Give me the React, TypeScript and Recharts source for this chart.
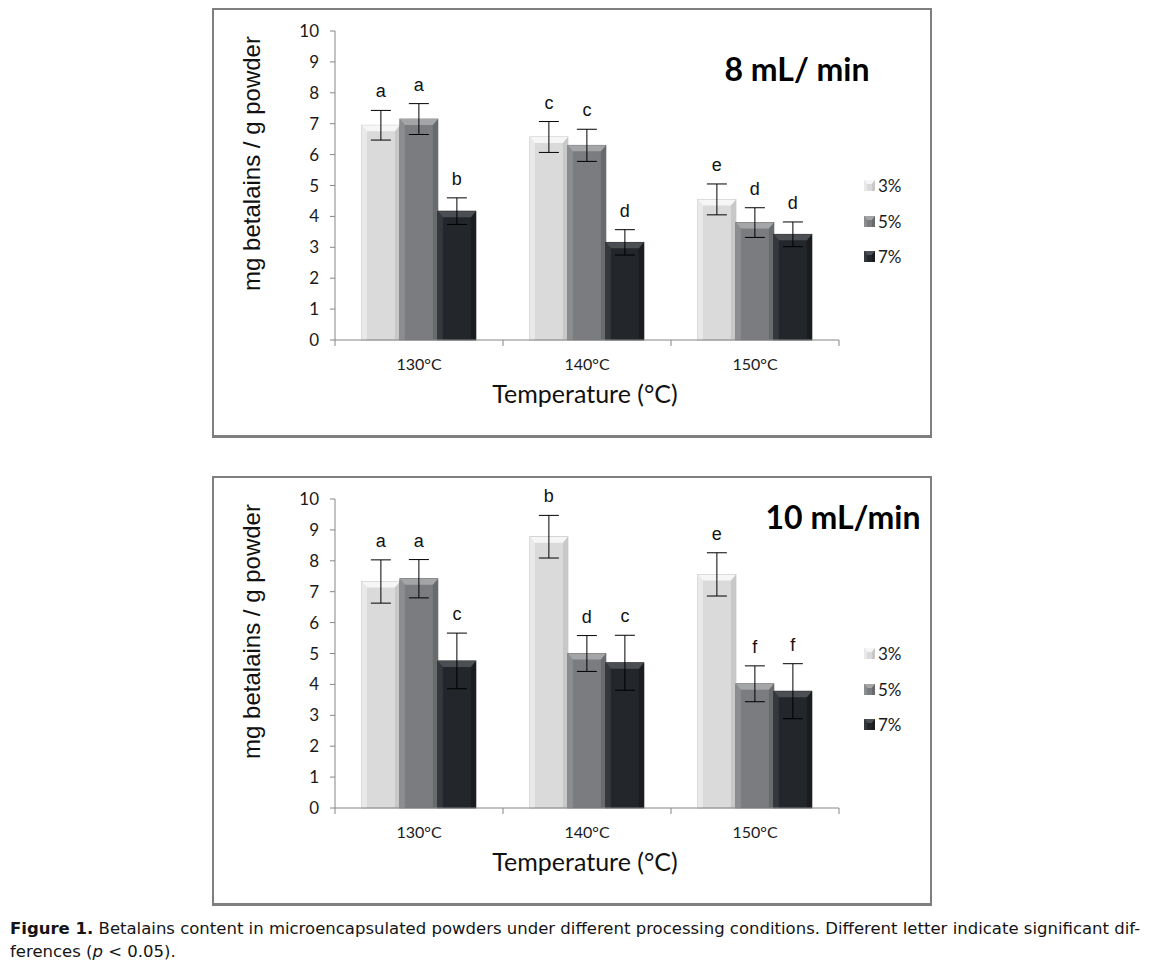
import React from 'react';
import { BarChart, Bar, XAxis, YAxis, ErrorBar, LabelList, Legend } from 'recharts';

// categories and series
const categories = ['130°C', '140°C', '150°C'];
const seriesNames = ['3%', '5%', '7%'];
const yTicks = [0, 1, 2, 3, 4, 5, 6, 7, 8, 9, 10];

// 8 mL/min panel
const top3 = [6.95, 6.57, 4.55];
const top5 = [7.15, 6.3, 3.8];
const top7 = [4.17, 3.16, 3.42];
const topErr3 = [0.48, 0.5, 0.5];
const topErr5 = [0.5, 0.52, 0.48];
const topErr7 = [0.43, 0.41, 0.4];
const topLetters3 = ['a', 'c', 'e'];
const topLetters5 = ['a', 'c', 'd'];
const topLetters7 = ['b', 'd', 'd'];

// 10 mL/min panel
const bot3 = [7.33, 8.78, 7.56];
const bot5 = [7.42, 5.0, 4.02];
const bot7 = [4.76, 4.7, 3.78];
const botErr3 = [0.7, 0.69, 0.7];
const botErr5 = [0.62, 0.58, 0.58];
const botErr7 = [0.9, 0.89, 0.89];
const botLetters3 = ['a', 'b', 'e'];
const botLetters5 = ['a', 'd', 'f'];
const botLetters7 = ['c', 'c', 'f'];

interface Row {
  cat: string;
  v3: number; v5: number; v7: number;
  e3: number; e5: number; e7: number;
  l3: string; l5: string; l7: string;
}

function buildRows(
  m3: number[], m5: number[], m7: number[],
  e3: number[], e5: number[], e7: number[],
  l3: string[], l5: string[], l7: string[]
): Row[] {
  return categories.map((cat, i) => ({
    cat,
    v3: m3[i], v5: m5[i], v7: m7[i],
    e3: e3[i], e5: e5[i], e7: e7[i],
    l3: l3[i], l5: l5[i], l7: l7[i],
  }));
}

const topData = buildRows(top3, top5, top7, topErr3, topErr5, topErr7, topLetters3, topLetters5, topLetters7);
const botData = buildRows(bot3, bot5, bot7, botErr3, botErr5, botErr7, botLetters3, botLetters5, botLetters7);

// bevel shading per series
const tones = [
  { face: '#dadada', top: '#f6f6f6', left: '#e9e9e9', right: '#c8c8c8', edge: '#b8b8b8' },
  { face: '#7a7c7f', top: '#a3a5a7', left: '#8b8d8f', right: '#686a6c', edge: '#5c5e60' },
  { face: '#23262a', top: '#4b4e52', left: '#34373b', right: '#1a1c1f', edge: '#151618' },
];

const AXIS_GRAY = '#868686';
const TICK_FONT = 'Lato, "Liberation Sans", sans-serif';

const BevelBar = (props: any) => {
  const { x, y, width, height, tone } = props;
  if (!height || height <= 0) return null;
  const s = Math.min(5, width / 5);
  const b = Math.min(6, height / 3);
  return (
    <g>
      <rect x={x} y={y} width={width} height={height} fill={tone.face} stroke={tone.edge} strokeWidth={0.8} />
      <polygon points={`${x},${y} ${x + s},${y + b} ${x + s},${y + height} ${x},${y + height}`} fill={tone.left} />
      <polygon points={`${x + width},${y} ${x + width - s},${y + b} ${x + width - s},${y + height} ${x + width},${y + height}`} fill={tone.right} />
      <polygon points={`${x},${y} ${x + width},${y} ${x + width - s},${y + b} ${x + s},${y + b}`} fill={tone.top} />
    </g>
  );
};

// x tick: label centred in band, tick marks at band boundaries
const BoundaryTick = (props: any) => {
  const { x, y, payload, index, visibleTicksCount } = props;
  const half = payload && payload.offset ? payload.offset : 84;
  const axisY = y - 6;
  const last = index === (visibleTicksCount ? visibleTicksCount - 1 : categories.length - 1);
  return (
    <g>
      <line x1={x - half} y1={axisY} x2={x - half} y2={axisY + 6} stroke={AXIS_GRAY} />
      {last && <line x1={x + half} y1={axisY} x2={x + half} y2={axisY + 6} stroke={AXIS_GRAY} />}
      <text x={x} y={axisY + 26} textAnchor="middle" dominantBaseline="middle" fontSize={16} fontFamily={TICK_FONT} fill="#1a1a1a">
        {payload.value}
      </text>
    </g>
  );
};

const makeLetter = (rows: Row[], valKey: 'v3' | 'v5' | 'v7', errKey: 'e3' | 'e5' | 'e7') => (props: any) => {
  const { x, y, width, height, index, value } = props;
  const row = rows[index];
  if (!row || !height) return null;
  const pxPerUnit = height / row[valKey];
  const errTop = y - row[errKey] * pxPerUnit;
  return (
    <text x={x + width / 2} y={errTop - 13} textAnchor="middle" fontSize={18} fontFamily='"Liberation Sans", Arial, sans-serif' fill="#111">
      {value}
    </text>
  );
};

const LegendBox = () => (
  <div style={{ fontFamily: TICK_FONT, fontSize: 17, color: '#1a1a1a' }}>
    {seriesNames.map((name, i) => (
      <div key={name} style={{ display: 'flex', alignItems: 'center', height: 35.5 }}>
        <svg width={11} height={11} style={{ marginRight: 3 }}>
          <rect x={0} y={0} width={11} height={11} fill={tones[i].face} />
          <polygon points="0,0 11,0 8,4 3,4" fill={tones[i].top} />
          <polygon points="0,0 3,4 3,11 0,11" fill={tones[i].left} />
          <polygon points="11,0 8,4 8,11 11,11" fill={tones[i].right} />
        </svg>
        <span>{name}</span>
      </div>
    ))}
  </div>
);

interface PanelProps {
  data: Row[];
  title: string;
  titleX: number;
  titleY: number;
  top: number;
}

const Panel: React.FC<PanelProps> = ({ data, title, titleX, titleY, top }) => {
  const keys: Array<['v3' | 'v5' | 'v7', 'e3' | 'e5' | 'e7', 'l3' | 'l5' | 'l7']> = [
    ['v3', 'e3', 'l3'],
    ['v5', 'e5', 'l5'],
    ['v7', 'e7', 'l7'],
  ];
  return (
    <div
      style={{
        position: 'absolute',
        left: 212,
        top,
        width: 716,
        height: 425,
        borderStyle: 'solid',
        borderColor: '#7f7f7f',
        borderWidth: '2px 2px 3px 2px',
        background: '#fff',
      }}
    >
      <BarChart
        width={716}
        height={425}
        data={data}
        margin={{ top: 21, right: 41, bottom: 0, left: 61 }}
        barCategoryGap="16%"
        barGap={0}
      >
        <XAxis
          dataKey="cat"
          height={95}
          tickLine={false}
          tickSize={6}
          tickMargin={0}
          axisLine={{ stroke: AXIS_GRAY }}
          tick={<BoundaryTick />}
          interval={0}
          label={{
            content: (p: any) => {
              const vb = p.viewBox;
              return (
                <text x={vb.x + vb.width / 2 - 2} y={vb.y + 57} textAnchor="middle" dominantBaseline="middle" fontSize={25} fontFamily={TICK_FONT} fill="#111">
                  Temperature (°C)
                </text>
              );
            },
          }}
        />
        <YAxis
          domain={[0, 10]}
          ticks={yTicks}
          width={60}
          tickSize={5}
          tickMargin={11}
          axisLine={{ stroke: AXIS_GRAY }}
          tickLine={{ stroke: AXIS_GRAY }}
          tick={{ fontSize: 17, fontFamily: TICK_FONT, fill: '#1a1a1a' }}
          label={{
            content: (p: any) => {
              const vb = p.viewBox;
              const cx = vb.x - 21;
              const cy = vb.y + vb.height / 2 - 22;
              return (
                <text x={cx} y={cy} transform={`rotate(-90, ${cx}, ${cy})`} textAnchor="middle" dominantBaseline="middle" fontSize={24} fontFamily='"Liberation Sans", Arial, sans-serif' fill="#111">
                  mg betalains / g powder
                </text>
              );
            },
          }}
        />
        <Legend
          layout="vertical"
          align="right"
          verticalAlign="middle"
          content={<LegendBox />}
          wrapperStyle={{ left: 650, top: 158, right: 'auto', width: 50 }}
        />
        {keys.map(([vk, ek, lk], i) => (
          <Bar
            key={vk}
            dataKey={vk}
            name={seriesNames[i]}
            fill={tones[i].face}
            isAnimationActive={false}
            shape={(p: any) => <BevelBar {...p} tone={tones[i]} />}
          >
            <ErrorBar dataKey={ek} width={10} stroke="#000" strokeWidth={1} isAnimationActive={false} />
            <LabelList dataKey={lk} content={makeLetter(data, vk, ek)} />
          </Bar>
        ))}
      </BarChart>
      <div
        style={{
          position: 'absolute',
          left: titleX,
          top: titleY,
          transform: 'translate(-50%, -50%)',
          fontFamily: TICK_FONT,
          fontWeight: 700,
          fontSize: 32,
          color: '#000',
          whiteSpace: 'nowrap',
        }}
      >
        {title}
      </div>
    </div>
  );
};

export default function App() {
  return (
    <div style={{ position: 'absolute', left: 0, top: 0, width: 1154, height: 976, background: '#fff' }}>
      <Panel data={topData} title="8 mL/ min" titleX={583} titleY={58} top={8} />
      <Panel data={botData} title="10 mL/min" titleX={629} titleY={38} top={476} />
      <div
        style={{
          position: 'absolute',
          left: 10,
          top: 917,
          fontFamily: '"DejaVu Sans", "Liberation Sans", sans-serif',
          fontSize: 16.5,
          lineHeight: '23px',
          color: '#141414',
          whiteSpace: 'nowrap',
        }}
      >
        <b>Figure 1.</b> Betalains content in microencapsulated powders under different processing conditions. Different letter indicate significant dif-
        <br />
        ferences (<i>p</i> &lt; 0.05).
      </div>
    </div>
  );
}
